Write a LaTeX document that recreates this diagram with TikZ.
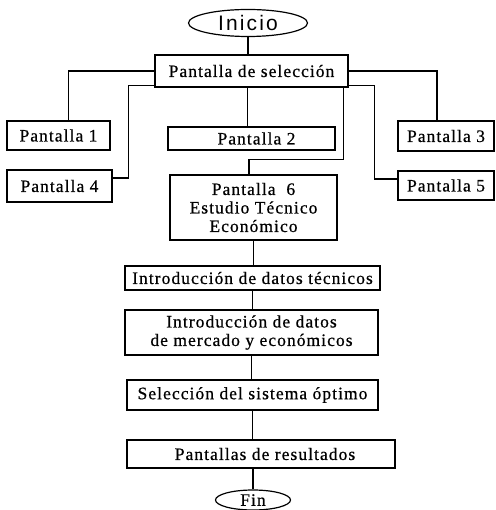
\documentclass[tikz,border=0pt]{standalone}
\usepackage{fontspec}
\setmainfont[LetterSpace=6,FakeBold=0.6]{Liberation Serif}
\newfontfamily\inisans[LetterSpace=10]{Liberation Sans}
\usetikzlibrary{shapes.geometric,calc}

\begin{document}
\begin{tikzpicture}[x=1pt,y=-1pt,line width=1.2pt,
  every node/.style={font=\fontsize{17.5}{18.5}\selectfont},
  caja/.style={draw, inner sep=0pt, align=center},
  ovalo/.style={draw, ellipse, inner sep=0pt}]
\useasboundingbox (0,0) rectangle (495,510);
% top of the chart
\node[ovalo, minimum width=119, minimum height=27, font=\inisans\fontsize{21}{21}\selectfont] (inicio) at (248,23) {Inicio};
\node[caja, minimum width=193, minimum height=32] (sel) at (251.5,71) {Pantalla de selección};
% the screens
\node[caja, minimum width=103, minimum height=29] (p1) at (58.5,135.5) {Pantalla 1};
\node[caja, minimum width=105, minimum height=32] (p4) at (59.5,186) {Pantalla 4};
\node[caja, minimum width=167, minimum height=23] (p2) at (251.5,138.5) {\hspace{10pt}Pantalla 2};
\node[caja, minimum width=96, minimum height=30] (p3) at (446,136) {Pantalla 3};
\node[caja, minimum width=96, minimum height=29] (p5) at (446,185.5) {Pantalla 5};
\node[caja, minimum width=167, minimum height=65] (p6) at (253.5,207.5) {Pantalla\ \ 6\\Estudio Técnico\\Económico};
% steps of the study
\node[caja, minimum width=255, minimum height=24] (tec) at (252.5,278) {Introducción de datos técnicos};
\node[caja, minimum width=253, minimum height=45] (merc) at (251.5,332.5) {Introducción de datos\\de mercado y económicos};
\node[caja, minimum width=251, minimum height=30] (opt) at (252.5,395) {Selección del sistema óptimo};
\node[caja, minimum width=268, minimum height=28] (res) at (261,454) {\hspace{8pt}Pantallas de resultados};
\node[ovalo, minimum width=75, minimum height=20] (fin) at (253,500) {Fin};

\draw (inicio.south) -- (inicio.south |- sel.north);
\draw (sel.west) -| ([xshift=10]p1.north);
\draw ([yshift=2]sel.south west) -| ($(p4.east)+(16,-8)$) -- ($(p4.east)+(0,-8)$);
\draw (sel.east) -| ([xshift=-9]p3.north);
\draw ([yshift=2]sel.south east) -| ($(p5.west)+(-23,-6.5)$) -- ($(p5.west)+(0,-6.5)$);
\draw ([xshift=-4]sel.south) -- ([xshift=-4]p2.north);
\draw ([xshift=-5]sel.south east) |- ($(p6.north)+(-4.5,-15)$) -- ([xshift=-4.5]p6.north);
\draw (p6.south) -- (p6.south |- tec.north);
\draw (tec.south) -- (tec.south |- merc.north);
\draw (merc.south) -- (merc.south |- opt.north);
\draw (opt.south) -- (opt.south |- res.north);
\draw (res.south -| fin.north) -- (fin.north);
\end{tikzpicture}
\end{document}
